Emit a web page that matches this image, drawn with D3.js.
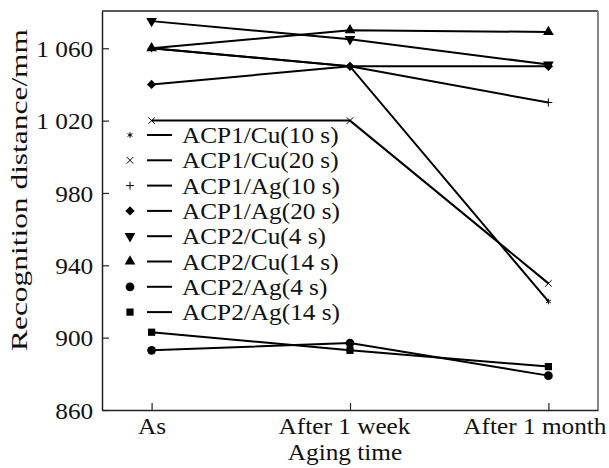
<!DOCTYPE html>
<html>
<head>
<meta charset="utf-8">
<script src="https://cdn.jsdelivr.net/npm/d3@7"></script>
<style>
  body { margin: 0; background: #fff; }
  text { font-family: "Liberation Serif", "Times New Roman", serif; fill: #111; }
</style>
</head>
<body>
<div id="chart"></div>
<script>
// aging stages on the x axis
var stages = ["As", "After 1  week", "After 1 month"];
var yTicks = [860, 900, 940, 980, 1020, 1060];

// recognition distance (mm), one array per sample
var acp1Cu10 = [1060, 1050, 920];
var acp1Cu20 = [1020, 1020, 930];
var acp1Ag10 = [1060, 1050, 1030];
var acp1Ag20 = [1040, 1050, 1050];
var acp2Cu4  = [1075, 1065, 1051];
var acp2Cu14 = [1060, 1070, 1069];
var acp2Ag4  = [893, 897, 879];
var acp2Ag14 = [903, 893, 884];

var seriesNames = ["ACP1/Cu(10 s)", "ACP1/Cu(20 s)", "ACP1/Ag(10 s)", "ACP1/Ag(20 s)",
                   "ACP2/Cu(4 s)", "ACP2/Cu(14 s)", "ACP2/Ag(4 s)", "ACP2/Ag(14 s)"];
var seriesValues = [acp1Cu10, acp1Cu20, acp1Ag10, acp1Ag20, acp2Cu4, acp2Cu14, acp2Ag4, acp2Ag14];
var markerKinds = ["asterisk", "times", "plus", "diamond", "down", "up", "circle", "square"];

var width = 609, height = 468,
    margin = {top: 11, right: 11, bottom: 58, left: 102},
    fontSize = 23,
    sx = 1.1; // the source type is drawn a little wide

var svg = d3.select("#chart").append("svg")
    .attr("width", width)
    .attr("height", height);

var x = d3.scalePoint()
    .domain(stages)
    .range([margin.left, width - margin.right])
    .padding(0.25);

var y = d3.scaleLinear()
    .domain([860, 1080.6])
    .range([height - margin.bottom, margin.top]);

function symbolFor(kind) {
    var sym = d3.symbol();
    switch (kind) {
        case "asterisk": return sym.type(d3.symbolAsterisk).size(22)();
        case "times":    return sym.type(d3.symbolTimes).size(30)();
        case "plus":     return sym.type(d3.symbolPlus).size(22)();
        case "diamond":  return sym.type(d3.symbolDiamond2 || d3.symbolDiamond).size(55)();
        case "down":
        case "up":       return sym.type(d3.symbolTriangle).size(50)();
        case "circle":   return sym.type(d3.symbolCircle).size(60)();
        case "square":   return sym.type(d3.symbolSquare).size(52)();
    }
}

function isStroked(kind) {
    return kind == "asterisk" || kind == "times" || kind == "plus";
}

function drawMarker(g, kind, cx, cy) {
    g.append("path")
        .attr("d", symbolFor(kind))
        .attr("transform", "translate(" + cx + "," + cy + ")" + (kind == "down" ? " rotate(180)" : ""))
        .attr("fill", isStroked(kind) ? "none" : "#000")
        .attr("stroke", "#000")
        .attr("stroke-width", isStroked(kind) ? 1 : 0);
}

// frame: top and right edges
svg.append("line")
    .attr("x1", margin.left).attr("x2", width - margin.right)
    .attr("y1", margin.top).attr("y2", margin.top)
    .attr("stroke", "#222").attr("stroke-width", 1.5);
svg.append("line")
    .attr("x1", width - margin.right).attr("x2", width - margin.right)
    .attr("y1", margin.top).attr("y2", height - margin.bottom)
    .attr("stroke", "#888").attr("stroke-width", 2);

// axes, ticks pointing inward
var fmt = function (d) { return d >= 1000 ? String(d).replace(/(\d)(\d{3})$/, "$1 $2") : String(d); };

var yAxis = svg.append("g")
    .attr("transform", "translate(" + margin.left + ",0)")
    .call(d3.axisLeft(y).tickValues(yTicks).tickFormat(fmt).tickSizeInner(-7).tickSizeOuter(0).tickPadding(8));

var xAxis = svg.append("g")
    .attr("transform", "translate(0," + (height - margin.bottom) + ")")
    .call(d3.axisBottom(x).tickSizeInner(-7).tickSizeOuter(0));

[yAxis, xAxis].forEach(function (ax) {
    ax.select(".domain").attr("stroke", "#222").attr("stroke-width", 1.5);
    ax.selectAll(".tick line").attr("stroke", "#222").attr("stroke-width", 1.2);
    ax.selectAll(".tick text")
        .attr("font-family", "Liberation Serif")
        .attr("font-size", fontSize)
        .attr("fill", "#111");
});
yAxis.selectAll(".tick text")
    .attr("dy", "0.35em")
    .attr("transform", "scale(" + sx + ",1)");

// the long x labels sit a little left of their ticks, as in the source
var xShift = [0, -6, -14];
xAxis.selectAll(".tick text")
    .attr("y", 0).attr("dy", 0)
    .attr("transform", function (d, i) { return "translate(" + xShift[i] + ",24) scale(" + sx + ",1)"; });

// axis titles
svg.append("text")
    .attr("transform", "translate(345,460) scale(" + sx + ",1)")
    .attr("text-anchor", "middle")
    .attr("font-size", fontSize)
    .text("Aging time");

svg.append("text")
    .attr("transform", "translate(27,190) rotate(-90)")
    .attr("text-anchor", "middle")
    .attr("font-size", fontSize)
    .attr("textLength", 322)
    .attr("lengthAdjust", "spacingAndGlyphs")
    .text("Recognition distance/mm");

// series lines and markers
var line = d3.line()
    .x(function (d, i) { return x(stages[i]); })
    .y(function (d) { return y(d); });

var plot = svg.append("g");
seriesValues.forEach(function (vals) {
    plot.append("path")
        .attr("d", line(vals))
        .attr("fill", "none")
        .attr("stroke", "#000")
        .attr("stroke-width", 2);
});
seriesValues.forEach(function (vals, k) {
    vals.forEach(function (v, i) {
        drawMarker(plot, markerKinds[k], x(stages[i]), y(v));
    });
});

// legend
var legend = svg.append("g");
seriesNames.forEach(function (name, k) {
    var ly = 135 + k * 25.3;
    drawMarker(legend, markerKinds[k], 130, ly);
    legend.append("line")
        .attr("x1", 147).attr("x2", 172)
        .attr("y1", ly).attr("y2", ly)
        .attr("stroke", "#000").attr("stroke-width", 2);
    legend.append("text")
        .attr("transform", "translate(182," + (ly + 8) + ") scale(" + sx + ",1)")
        .attr("font-size", fontSize)
        .text(name);
});
</script>
</body>
</html>
